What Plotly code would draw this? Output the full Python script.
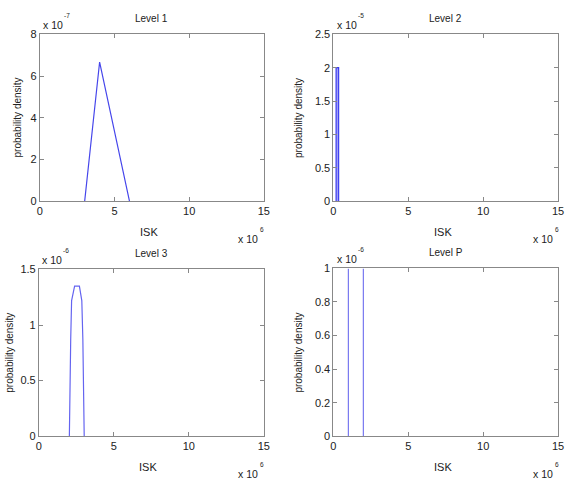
import plotly.graph_objects as go

# ---- data (x in units of 1e6 ISK, y in units shown by each panel's exponent) ----
level1_isk = [3.0, 4.0, 6.0]                  # x 10^6
level1_density = [0.0, 6.67, 0.0]             # x 10^-7

level2_isk = [0.18, 0.18, 0.35, 0.35]         # x 10^6
level2_density = [0.0, 2.0, 2.0, 0.0]         # x 10^-5

level3_isk = [2.03, 2.06, 2.12, 2.18, 2.30, 2.38, 2.70, 2.78, 2.86, 2.93, 2.98, 3.02]   # x 10^6
level3_density = [0.0, 0.48, 0.87, 1.22, 1.30, 1.35, 1.35, 1.28, 1.22, 0.87, 0.48, 0.0]  # x 10^-6

# uniform density 1e6..2e6; its top edge coincides with the axis frame
levelP_isk = [1.0, 1.0, None, 2.0, 2.0]       # x 10^6
levelP_density = [0.0, 1.0, None, 1.0, 0.0]   # x 10^-6

titles = ["Level 1", "Level 2", "Level 3", "Level P"]
y_exponents = ["-7", "-5", "-6", "-6"]
x_exponent = "6"
y_ranges = [[0, 8], [0, 2.5], [0, 1.5], [0, 1]]
y_dticks = [2, 0.5, 0.5, 0.2]
x_range = [0, 15]
x_tickvals = [0, 5, 10, 15]

W, H = 570, 491
# panel boxes in pixels: (left, right, top, bottom)
boxes = [(37.5, 265, 29, 200), (335.7, 564, 29, 200),
         (36.5, 265, 270, 441), (335.7, 564, 269, 441)]
ylabel_x = [15, 300, 7, 300]

series = [(level1_isk, level1_density, "rgb(70,70,235)"),
          (level2_isk, level2_density, "rgb(60,60,240)"),
          (level3_isk, level3_density, "rgb(100,100,240)"),
          (levelP_isk, levelP_density, "rgb(120,120,240)")]

fig = go.Figure()
font_fam = "Liberation Sans, Arial, Helvetica, sans-serif"
txt_col = "#222222"
axis_col = "#888888"


def px(x, y):
    return x / W, 1 - y / H


annotations = []


def add_text(text, x, y, size, xanchor="left", angle=0):
    ax, ay = px(x, y)
    annotations.append(dict(text=text, x=ax, y=ay, xref="paper", yref="paper",
                            showarrow=False, xanchor=xanchor, yanchor="middle",
                            textangle=angle,
                            font=dict(family=font_fam, size=size, color=txt_col)))


for i, ((xs, ys, col), box) in enumerate(zip(series, boxes)):
    n = "" if i == 0 else str(i + 1)
    extra = {}
    if i == 1:
        extra = dict(fill="toself", fillcolor="rgba(80,80,240,0.55)")
    fig.add_trace(go.Scatter(x=xs, y=ys, mode="lines",
                             line=dict(color=col, width=1.2),
                             xaxis="x" + n, yaxis="y" + n,
                             showlegend=False, hoverinfo="skip", **extra))
    l, r, t, b = box
    common = dict(showgrid=False, zeroline=False, showline=True, linecolor=axis_col,
                  linewidth=1, mirror="ticks", ticks="inside", ticklen=4, layer="above traces",
                  tickcolor=axis_col, tickfont=dict(family=font_fam, size=11, color=txt_col))
    fig.layout["xaxis" + n] = dict(domain=[l / W, r / W], anchor="y" + n,
                                   range=x_range, tickvals=x_tickvals, **common)
    fig.layout["yaxis" + n] = dict(domain=[1 - b / H, 1 - t / H], anchor="x" + n,
                                   range=y_ranges[i], dtick=y_dticks[i], tick0=0, **common)
    cx = (l + r) / 2
    add_text(titles[i], cx, t - 16, 10, xanchor="center")
    # y exponent: "x 10" with raised small exponent
    add_text("x 10", l + 1.5, t - 10, 10.5)
    add_text(y_exponents[i], l + 22.5, t - 19, 6.5)
    # x axis title
    add_text("ISK", cx - 3, b + 32, 11, xanchor="center")
    # x exponent
    add_text("x 10", r - 28, b + 39, 10.5)
    add_text(x_exponent, r - 5.5, b + 29, 6.5)
    # y axis title
    add_text("probability density", ylabel_x[i], (t + b) / 2, 10, xanchor="center", angle=-90)

fig.update_layout(width=W, height=H, margin=dict(l=0, r=0, t=0, b=0),
                  paper_bgcolor="white", plot_bgcolor="white",
                  annotations=annotations)

fig.write_html("out.html")
